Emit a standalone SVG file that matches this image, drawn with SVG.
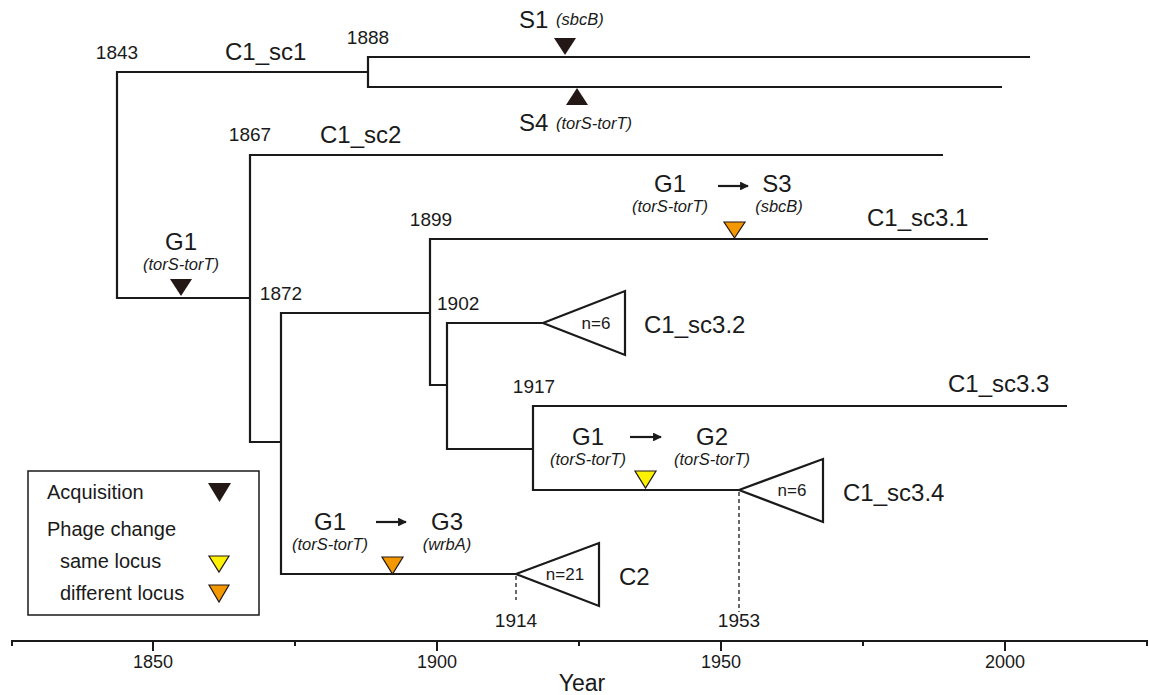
<svg xmlns="http://www.w3.org/2000/svg" width="1149" height="695" viewBox="0 0 1149 695">
<defs>
<style>
text{font-family:"Liberation Sans",Arial,sans-serif;fill:#1a1a1a}
.br{fill:none;stroke:#1a1a1a;stroke-width:2.2}
.tri{fill:#fff;stroke:#1a1a1a;stroke-width:2.2}
.dash{stroke:#1a1a1a;stroke-width:1.3;stroke-dasharray:4,3}
.lab{font-size:24px}
.yr{font-size:19px}
.it{font-size:16.5px;font-style:italic}
.sm{font-size:17px}
.leg{font-size:20px}
.ax{font-size:18px}
.acq{fill:#231815}
.same{fill:#fff200;stroke:#231815;stroke-width:1.2}
.diff{fill:#f39800;stroke:#231815;stroke-width:1.2}
</style>
<marker id="arr" viewBox="0 0 10 10" refX="9" refY="5" markerWidth="4.5" markerHeight="4" orient="auto"><path d="M0,0L10,5L0,10z" fill="#1a1a1a"/></marker>
</defs>

<g id="connectors">
<path class="br" d="M368,72H117V298H250"/>
<path class="br" d="M1030,57H368V87H1002"/>
<path class="br" d="M943,155H250V442H281"/>
<path class="br" d="M430,313H281V574H516"/>
<path class="br" d="M988,239H430V385H447"/>
<path class="br" d="M543,323H447V449H533"/>
<path class="br" d="M1067,406H533V490H739"/>
<line class="dash" x1="516" y1="576" x2="516" y2="600"/>
<line class="dash" x1="739" y1="492" x2="739" y2="612"/>
<line x1="630" y1="437" x2="661" y2="437" stroke="#1a1a1a" stroke-width="2.2" marker-end="url(#arr)"/>
<line x1="718" y1="186" x2="748" y2="186" stroke="#1a1a1a" stroke-width="2.2" marker-end="url(#arr)"/>
<line x1="376" y1="522" x2="406" y2="522" stroke="#1a1a1a" stroke-width="2.2" marker-end="url(#arr)"/>
</g>

<g id="node-1843">
<text class="yr" x="117" y="59" text-anchor="middle">1843</text>
<text class="lab" x="225" y="60">C1_sc1</text>
</g>
<g id="node-1888">
<text class="yr" x="368" y="44" text-anchor="middle">1888</text>
</g>
<g id="S1">
<text class="lab" x="519" y="28">S1</text>
<text class="it" x="556" y="25">(sbcB)</text>
<path class="acq" d="M554,38H576L565,55z"/>
</g>
<g id="S4">
<path class="acq" d="M566,105H588L577,88z"/>
<text class="lab" x="519" y="131">S4</text>
<text class="it" x="556" y="129">(torS-torT)</text>
</g>
<g id="node-1867">
<text class="yr" x="250" y="141" text-anchor="middle">1867</text>
<text class="lab" x="320" y="143">C1_sc2</text>
</g>
<g id="G1-acq">
<text class="lab" x="181" y="250" text-anchor="middle">G1</text>
<text class="it" x="181" y="270" text-anchor="middle">(torS-torT)</text>
<path class="acq" d="M170,279H192L181,296z"/>
</g>
<g id="node-1872">
<text class="yr" x="281" y="300" text-anchor="middle">1872</text>
</g>
<g id="node-1899">
<text class="yr" x="431" y="226" text-anchor="middle">1899</text>
</g>
<g id="C1_sc3.1">
<text class="lab" x="670" y="192" text-anchor="middle">G1</text>
<text class="it" x="670" y="212" text-anchor="middle">(torS-torT)</text>
<text class="lab" x="777" y="192" text-anchor="middle">S3</text>
<text class="it" x="779" y="212" text-anchor="middle">(sbcB)</text>
<path class="diff" d="M724,222H745L734.5,238z"/>
<text class="lab" x="867" y="226">C1_sc3.1</text>
</g>
<g id="node-1902">
<text class="yr" x="437" y="310">1902</text>
</g>
<g id="C1_sc3.2">
<path class="tri" d="M543,323L625,291V355z"/>
<text class="sm" x="596" y="329" text-anchor="middle">n=6</text>
<text class="lab" x="644" y="333">C1_sc3.2</text>
</g>
<g id="node-1917">
<text class="yr" x="534" y="393" text-anchor="middle">1917</text>
</g>
<g id="C1_sc3.3">
<text class="lab" x="948" y="392">C1_sc3.3</text>
</g>
<g id="G1-G2">
<text class="lab" x="588" y="445" text-anchor="middle">G1</text>
<text class="it" x="588" y="465" text-anchor="middle">(torS-torT)</text>
<text class="lab" x="712" y="445" text-anchor="middle">G2</text>
<text class="it" x="712" y="465" text-anchor="middle">(torS-torT)</text>
<path class="same" d="M635,471H656L645.5,488z"/>
</g>
<g id="C1_sc3.4">
<path class="tri" d="M739,490L823,459V522z"/>
<text class="sm" x="792" y="496" text-anchor="middle">n=6</text>
<text class="lab" x="843" y="501">C1_sc3.4</text>
<text class="yr" x="739" y="627" text-anchor="middle">1953</text>
</g>
<g id="G1-G3">
<text class="lab" x="330" y="530" text-anchor="middle">G1</text>
<text class="it" x="330" y="550" text-anchor="middle">(torS-torT)</text>
<text class="lab" x="447" y="530" text-anchor="middle">G3</text>
<text class="it" x="447" y="550" text-anchor="middle">(wrbA)</text>
<path class="diff" d="M382,557H403L392.5,574z"/>
</g>
<g id="C2">
<path class="tri" d="M516,574L599,543V606z"/>
<text class="sm" x="565" y="580" text-anchor="middle">n=21</text>
<text class="lab" x="619" y="585">C2</text>
<text class="yr" x="516" y="627" text-anchor="middle">1914</text>
</g>

<g id="legend">
<rect x="28" y="471" width="231" height="144" fill="#fff" stroke="#1a1a1a" stroke-width="1.5"/>
<text class="leg" x="47" y="499">Acquisition</text>
<path class="acq" d="M208,483H231L219.5,502z"/>
<text class="leg" x="47" y="536">Phage change</text>
<text class="leg" x="60" y="568">same locus</text>
<path class="same" d="M209,556H229L219,572z"/>
<text class="leg" x="60" y="600">different locus</text>
<path class="diff" d="M209,585H229L219,602z"/>
</g>

<g id="axis">
<line x1="11" y1="641" x2="1147" y2="641" stroke="#1a1a1a" stroke-width="2.2"/>
<path d="M12,640V646M153,640V651M295,640V646M437,640V651M579,640V646M721,640V651M863,640V646M1005,640V651M1147,640V646" stroke="#1a1a1a" stroke-width="2"/>
<text class="ax" x="153" y="668" text-anchor="middle">1850</text>
<text class="ax" x="437" y="668" text-anchor="middle">1900</text>
<text class="ax" x="721" y="668" text-anchor="middle">1950</text>
<text class="ax" x="1005" y="668" text-anchor="middle">2000</text>
<text x="582" y="691" text-anchor="middle" font-size="23">Year</text>
</g>
</svg>
